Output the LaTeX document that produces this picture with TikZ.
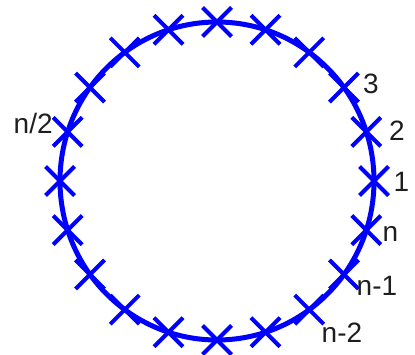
\documentclass[tikz,border=0pt]{standalone}
\usepackage{fontspec}
\setmainfont{Liberation Sans}
\usetikzlibrary{shapes.misc}
\definecolor{ink}{HTML}{1E1E1E}
\tikzset{
  ring/.style ={draw=blue,line width=5pt},
  xmark/.style={draw=blue,cross out,line width=4pt,minimum size=25pt,
                inner sep=0pt},
  lbl/.style  ={font=\fontsize{28}{32}\selectfont,text=ink,inner sep=0pt,
                anchor=base west},
}
\begin{document}
\begin{tikzpicture}[x=1pt,y=1pt]
\useasboundingbox (0,0) rectangle (415,354);
\coordinate (c) at (217,173);
% ring
\draw[ring] (c) ellipse [x radius=157, y radius=159];
% samples
\foreach \k in {1,...,20}
  \node[xmark] (m\k) at ([shift={({(\k-1)*18}:157 and 159)}]c) {};
% labels
\node[lbl] (l1)  at (393.5,162.8) {1};
\node[lbl] (l2)  at (389,213.5)   {2};
\node[lbl] (l3)  at (363,260.2) {3};
\node[lbl] (ln)  at (382.5,112.5) {n};
\node[lbl] (ln1) at (356.5,58.5)  {n-1};
\node[lbl] (ln2) at (321.5,11.8){n-2};
\node[lbl] (lh)  at (13.5,220.2){n/2};
\end{tikzpicture}
\end{document}
